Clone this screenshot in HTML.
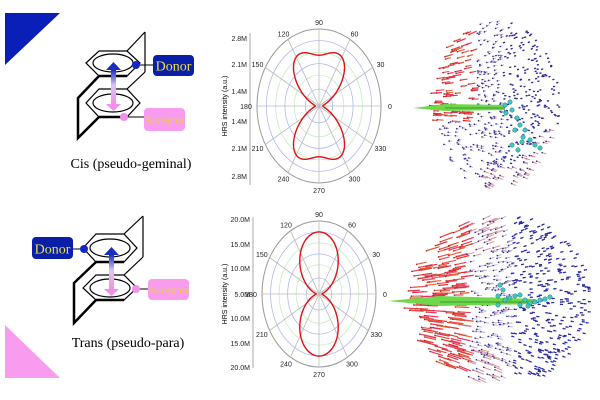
<!DOCTYPE html>
<html><head><meta charset="utf-8"><style>
html,body{margin:0;padding:0;background:#fff;width:600px;height:400px;overflow:hidden}
svg{display:block}
text{font-family:"Liberation Sans",sans-serif}
.s{font-family:"Liberation Serif",serif}
</style></head><body>
<svg id="sv" width="600" height="400" viewBox="0 0 600 400" xmlns="http://www.w3.org/2000/svg">
<defs>
<linearGradient id="ag" x1="0" y1="0" x2="0" y2="1"><stop offset="0" stop-color="#1a2fc0"/><stop offset="0.45" stop-color="#d8c8f0"/><stop offset="1" stop-color="#f48ee8"/></linearGradient>
</defs>
<polygon points="5,13 60,13 5,65" fill="#0a1fb8"/>
<polygon points="5,325 5,378 60,378" fill="#f99cf0"/>

<g fill="none" stroke="#000" stroke-width="1.2">
<line x1="145" y1="32" x2="145" y2="72"/><line x1="145" y1="32" x2="127" y2="51"/><line x1="145" y1="72" x2="127" y2="89"/>
<polygon points="86,63 99,51 127,51 140,63 127,76 99,76"/>
<ellipse cx="113" cy="63" rx="20" ry="9"/>
<polygon points="86,103 99,89 127,89 140,103 127,117 99,117"/>
<ellipse cx="113" cy="103" rx="20" ry="9"/>
</g>
<g stroke="#000" stroke-width="2.5" fill="none"><polyline points="99,76 78,98 78,138 99,117"/><line x1="99" y1="76" x2="127" y2="76"/><line x1="99" y1="117" x2="127" y2="117"/></g>
<rect x="111" y="70" width="5" height="34" fill="url(#ag)"/>
<polygon points="106,70 113.5,62 121,70" fill="#1a2fc0"/>
<polygon points="106,104 113.5,111 121,104" fill="#f48ee8"/>
<line x1="136" y1="65" x2="153" y2="65" stroke="#000"/>
<circle cx="136" cy="65" r="4" fill="#1428c8"/>
<rect x="153" y="55" width="41" height="21" rx="4" fill="#0a1fa8"/>
<text x="173.5" y="70.5" class="s" font-size="14" fill="#f0e040" text-anchor="middle">Donor</text>
<line x1="124" y1="117" x2="144" y2="117" stroke="#000"/>
<circle cx="124" cy="117" r="4" fill="#f48ee8"/>
<rect x="144" y="108" width="41" height="23" rx="4" fill="#f99cf0"/>
<text x="164.5" y="123.5" class="s" font-size="11" fill="#e8d040" text-anchor="middle">Acceptor</text>
<text x="131" y="168" class="s" font-size="14" text-anchor="middle">Cis (pseudo-geminal)</text>

<g fill="none" stroke="#000" stroke-width="1.2">
<line x1="143" y1="216" x2="143" y2="257"/><line x1="143" y1="216" x2="124" y2="234"/><line x1="143" y1="257" x2="124" y2="275"/>
<polygon points="83,248 96,234 124,234 137,248 124,262 96,262"/>
<ellipse cx="110" cy="248" rx="20" ry="9"/>
<polygon points="83,288 96,275 124,275 137,288 124,300 96,300"/>
<ellipse cx="110" cy="288" rx="20" ry="9"/>
</g>
<g stroke="#000" stroke-width="2.5" fill="none"><polyline points="96,262 74,283 74,323 96,300"/><line x1="96" y1="262" x2="124" y2="262"/><line x1="96" y1="300" x2="124" y2="300"/></g>
<rect x="109" y="255" width="5" height="34" fill="url(#ag)"/>
<polygon points="104,255 111.5,247 119,255" fill="#1a2fc0"/>
<polygon points="104,289 111.5,296 119,289" fill="#f48ee8"/>
<line x1="73" y1="249" x2="84" y2="249" stroke="#000"/>
<circle cx="84" cy="249" r="4" fill="#1428c8"/>
<rect x="32" y="237" width="41" height="22" rx="4" fill="#0a1fa8"/>
<text x="52.5" y="253.5" class="s" font-size="14" fill="#f0e040" text-anchor="middle">Donor</text>
<line x1="136" y1="289" x2="148" y2="289" stroke="#000"/>
<circle cx="136" cy="289" r="4" fill="#f48ee8"/>
<rect x="148" y="279" width="41" height="21" rx="4" fill="#f99cf0"/>
<text x="168.5" y="293.5" class="s" font-size="11" fill="#e8d040" text-anchor="middle">Acceptor</text>
<text x="128" y="347" class="s" font-size="14" text-anchor="middle">Trans (pseudo-para)</text>

<g font-size="7" fill="#222" text-anchor="end">
<text x="247" y="41">2.8M</text><text x="247" y="67">2.1M</text><text x="247" y="94">1.4M</text>
<text x="247" y="124">1.4M</text><text x="247" y="151">2.1M</text><text x="247" y="179">2.8M</text>
<text x="250" y="222">20.0M</text><text x="250" y="247">15.0M</text><text x="250" y="271">10.0M</text><text x="250" y="297">5.0M</text>
<text x="250" y="321">10.0M</text><text x="250" y="346">15.0M</text><text x="250" y="370">20.0M</text>
</g>
<line x1="250" y1="33" x2="250" y2="185" stroke="#aaa"/>
<line x1="253" y1="217" x2="253" y2="368" stroke="#aaa"/>
<text transform="translate(227,106) rotate(-90)" font-size="7" text-anchor="middle">HRS intensity (a.u.)</text>
<text transform="translate(227,294) rotate(-90)" font-size="7" text-anchor="middle">HRS intensity (a.u.)</text>
<g id="dyn"></g>
</svg>
<script>
var NS="http://www.w3.org/2000/svg",g=document.getElementById("dyn");
function el(t,a,txt){var e=document.createElementNS(NS,t);for(var k in a)e.setAttribute(k,a[k]);if(txt)e.textContent=txt;g.appendChild(e);return e;}
function polar(cx,cy,rx,ry,f){
 [[1,"#999"],[0.85,"#aab0ee"],[0.7,"#bfe8bf"],[0.55,"#aab0ee"],[0.4,"#bfe8bf"],[0.22,"#aab0ee"]].forEach(function(c){
  el("ellipse",{cx:cx,cy:cy,rx:rx*c[0],ry:ry*c[0],fill:"none",stroke:c[1],"stroke-width":c[0]==1?1:0.7});});
 for(var a=0;a<360;a+=30){var r=a*Math.PI/180;
  el("line",{x1:cx,y1:cy,x2:cx+rx*Math.cos(r),y2:cy-ry*Math.sin(r),stroke:"#bbb","stroke-width":0.8});
  var lx=cx+(rx+9)*Math.cos(r),ly=cy-(ry+7)*Math.sin(r)+3;
  if(a==180)lx-=2;
  el("text",{x:lx,y:ly,"font-size":7,"text-anchor":"middle",fill:"#222"},String(a));}
 var d="";for(var i=0;i<=360;i++){var t=i*Math.PI/180,r=f(t);
  d+=(i?"L":"M")+(cx+rx*r*Math.cos(t)).toFixed(2)+","+(cy-ry*r*Math.sin(t)).toFixed(2);}
 el("path",{d:d,fill:"none",stroke:"#e01010","stroke-width":1.4});}
polar(319,106,62,77,function(t){var s=Math.sin(t),s2=Math.sin(2*t);return 0.06+0.6*s*s+0.4*s2*s2*s*s;});
polar(319,294,57,73,function(t){var s=Math.sin(t);return 0.05+0.8*s*s;});

var seed=7;function rnd(){seed=(seed*9301+49297)%233280;return seed/233280;}
function sphere(cx,cy,rx,ry,n,len,isTop){
 for(var i=0;i<n;i++){var a=rnd()*2*Math.PI,r=Math.sqrt(rnd());
  var x=cx+rx*r*Math.cos(a),y=cy+ry*r*Math.sin(a);
  var u=(x-cx)/rx,v=(y-cy)/ry;
  var red = isTop ? ((u<-0.3&&v<0.2)?1:(r>0.75&&v>0.3&&u>-0.2?0.6:0)) : (u<-0.35?1:(u<0 && r>0.6?0.5:0));
  var col,L,w;
  if(red>=1){col="rgb(225,"+Math.round(40+rnd()*70)+","+Math.round(40+rnd()*70)+")";L=len*(0.7+rnd()*0.5);w=1.2;}
  else if(red>0){col="rgb(215,150,160)";L=len*0.6;w=1;}
  else if(u<0.1){col="rgb(190,170,210)";L=len*0.35;w=0.9;}
  else {col="rgb(40,40,"+Math.round(150+rnd()*80)+")";L=len*0.2;w=1.2;}
  var dy=v*L*0.5;
  el("line",{x1:x,y1:y,x2:x-L,y2:y-dy,stroke:col,"stroke-width":w});
  el("circle",{cx:x-L,cy:y-dy,r:0.8,fill:red>=1?"#c02020":"#2a2a90"});}
}
sphere(498,105,63,85,600,7,true);
sphere(505,300,88,86,800,12,false);
el("polygon",{points:"413,108 445,104 505,105 505,110 445,111",fill:"#6ed84a"});
el("line",{x1:445,y1:108,x2:505,y2:108,stroke:"#3a9a2a","stroke-width":1});
el("polygon",{points:"388,301 440,296 535,299 535,304 440,306",fill:"#6ed84a"});
el("line",{x1:440,y1:302,x2:535,y2:302,stroke:"#3a9a2a","stroke-width":1});
var m1=[[505,105],[510,102],[512,110],[506,113],[517,118],[520,125],[525,130],[523,137],[530,140],[535,145],[540,148],[515,130],[512,145],[518,150],[522,142]];
m1.forEach(function(p){el("circle",{cx:p[0],cy:p[1],r:2.2,fill:"#40c8c0",stroke:"#207878","stroke-width":0.5});});
var m2=[[500,285],[503,290],[498,296],[505,300],[498,305],[510,298],[515,296],[520,295],[525,300],[530,303],[535,302],[540,300],[545,299],[550,297],[520,305],[528,306]];
m2.forEach(function(p){el("circle",{cx:p[0],cy:p[1],r:2.2,fill:"#40c8c0",stroke:"#207878","stroke-width":0.5});});
</script>
</body></html>
